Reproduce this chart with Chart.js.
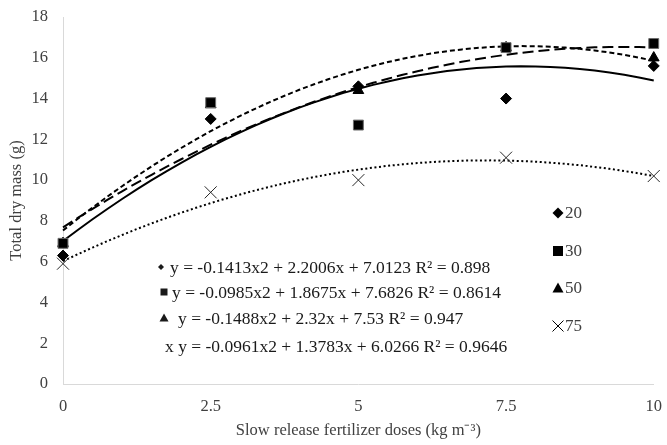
<!DOCTYPE html>
<html>
<head>
<meta charset="utf-8">
<script src="https://cdn.jsdelivr.net/npm/chart.js@4.4.0/dist/chart.umd.min.js"></script>
<style>
  body { margin: 0; background: #fff; }
  canvas { display: block; }
</style>
</head>
<body>
<canvas id="chart" width="667" height="445"></canvas>
<script>
// doses (kg m-3)
const doses = [0, 2.5, 5, 7.5, 10];
const seriesNames = ['20', '30', '50', '75'];
const mass20 = [6.3, 13.0, 14.6, 14.0, 15.6];
const mass30 = [6.9, 13.8, 12.7, 16.5, 16.7];
const mass50 = [6.9, 13.7, 14.4, 16.5, 16.0];
const mass75 = [5.9, 9.4, 10.0, 11.1, 10.2];
// trendline y = a*x2 + b*x + c
const coefA = [-0.1413, -0.0985, -0.1488, -0.0961];
const coefB = [2.2006, 1.8675, 2.32, 1.3783];
const coefC = [7.0123, 7.6826, 7.53, 6.0266];
const rSquared = [0.898, 0.8614, 0.947, 0.9646];
const xTicks = [0, 2.5, 5, 7.5, 10];
const yTicks = [0, 2, 4, 6, 8, 10, 12, 14, 16, 18];

const allMass = [mass20, mass30, mass50, mass75];
const markerStyles = ['rectRot', 'rect', 'triangle', 'crossRot'];
const markerSizes = [5.5, 7, 6.2, 8.5];
const lineDashes = [[], [11, 5], [5, 3], [2, 2.6]];
const FONT = '"Liberation Serif", "Times New Roman", serif';
const TEXT = '#404040';

// trendline points from the fitted equations
function trend(i) {
  const pts = [];
  for (let k = 0; k <= 40; k++) {
    const x = k * 0.25;
    pts.push({ x: x, y: coefA[i] * x * x + coefB[i] * x + coefC[i] });
  }
  return pts;
}

const datasets = [];
allMass.forEach((vals, i) => {
  datasets.push({
    type: 'scatter',
    label: seriesNames[i],
    data: doses.map((d, j) => ({ x: d, y: vals[j] })),
    pointStyle: markerStyles[i],
    pointRadius: markerSizes[i],
    backgroundColor: '#000',
    borderColor: i === 3 ? '#262626' : (i === 1 ? '#6b6b6b' : '#000'),
    borderWidth: 1,
    clip: false,
    order: 0
  });
});
allMass.forEach((vals, i) => {
  datasets.push({
    type: 'line',
    label: 'trend ' + seriesNames[i],
    data: trend(i),
    borderColor: '#000',
    borderWidth: 2,
    borderDash: lineDashes[i],
    pointRadius: 0,
    fill: false,
    tension: 0,
    clip: false,
    order: 1
  });
});

// simple marker drawing for the legend and equations
function marker(ctx, style, x, y, s) {
  ctx.beginPath();
  if (style === 'rectRot') {
    ctx.moveTo(x, y - s); ctx.lineTo(x + s, y); ctx.lineTo(x, y + s); ctx.lineTo(x - s, y);
    ctx.closePath(); ctx.fill();
  } else if (style === 'rect') {
    ctx.rect(x - s, y - s, 2 * s, 2 * s); ctx.fill();
  } else if (style === 'triangle') {
    ctx.moveTo(x, y - s); ctx.lineTo(x + s, y + s * 0.8); ctx.lineTo(x - s, y + s * 0.8);
    ctx.closePath(); ctx.fill();
  } else {
    ctx.lineWidth = 1;
    ctx.moveTo(x - s, y - s); ctx.lineTo(x + s, y + s);
    ctx.moveTo(x + s, y - s); ctx.lineTo(x - s, y + s);
    ctx.stroke();
  }
}

const overlay = {
  id: 'overlay',
  afterDraw(chart) {
    const ctx = chart.ctx;
    ctx.save();
    ctx.fillStyle = '#000';
    ctx.strokeStyle = '#000';
    ctx.textBaseline = 'middle';
    ctx.textAlign = 'left';
    ctx.font = '17px ' + FONT;

    // legend
    const legY = [213, 251, 288, 326];
    const legSize = [5.5, 5, 5.5, 5.5];
    seriesNames.forEach((name, i) => {
      ctx.fillStyle = '#000';
      marker(ctx, markerStyles[i], 558, legY[i], legSize[i]);
      ctx.fillStyle = TEXT;
      ctx.fillText(name, 565, legY[i] + 1);
    });

    // equations
    ctx.font = '17.5px ' + FONT;
    const eqY = [267, 292, 318, 346];
    const eqMarkX = [161, 164, 164, 0];
    const eqTextX = [170, 172, 178, 165];
    const eqSize = [3, 3.5, 4.5, 0];
    seriesNames.forEach((name, i) => {
      let txt = 'y = ' + coefA[i] + 'x2 + ' + coefB[i] + 'x + ' + coefC[i] + ' R\u00b2 = ' + rSquared[i];
      ctx.fillStyle = '#1a1a1a';
      if (i < 3) {
        marker(ctx, markerStyles[i], eqMarkX[i], eqY[i], eqSize[i]);
      } else {
        txt = 'x ' + txt;
      }
      ctx.fillText(txt, eqTextX[i], eqY[i] + 1);
    });
    ctx.restore();
  }
};

new Chart(document.getElementById('chart'), {
  type: 'scatter',
  data: { datasets: datasets },
  options: {
    responsive: false,
    animation: false,
    devicePixelRatio: 1,
    layout: { padding: { top: 17, right: 4, left: 0, bottom: 0 } },
    plugins: {
      legend: { display: false },
      tooltip: { enabled: false }
    },
    scales: {
      x: {
        type: 'linear',
        min: 0,
        max: 10,
        afterBuildTicks: s => { s.ticks = xTicks.map(v => ({ value: v })); },
        afterFit: s => { s.height = 61; },
        grid: { display: false },
        border: { display: true, color: '#d9d9d9', width: 1 },
        ticks: { color: TEXT, font: { family: FONT, size: 16.5 }, padding: 5, maxRotation: 0 },
        title: {
          display: true,
          text: 'Slow release fertilizer doses (kg m\u207b\u00b3)',
          color: TEXT,
          font: { family: FONT, size: 16.5 },
          padding: { top: 8 }
        }
      },
      y: {
        type: 'linear',
        min: 0,
        max: 18,
        afterBuildTicks: s => { s.ticks = yTicks.map(v => ({ value: v })); },
        afterFit: s => { s.width = 63; },
        grid: { display: false },
        border: { display: true, color: '#d9d9d9', width: 1 },
        ticks: { color: TEXT, font: { family: FONT, size: 16.5 }, padding: 7 },
        title: {
          display: true,
          text: 'Total dry mass (g)',
          color: TEXT,
          font: { family: FONT, size: 16.5 },
          padding: { top: 7, bottom: 0 }
        }
      }
    }
  },
  plugins: [overlay]
});
</script>
</body>
</html>
